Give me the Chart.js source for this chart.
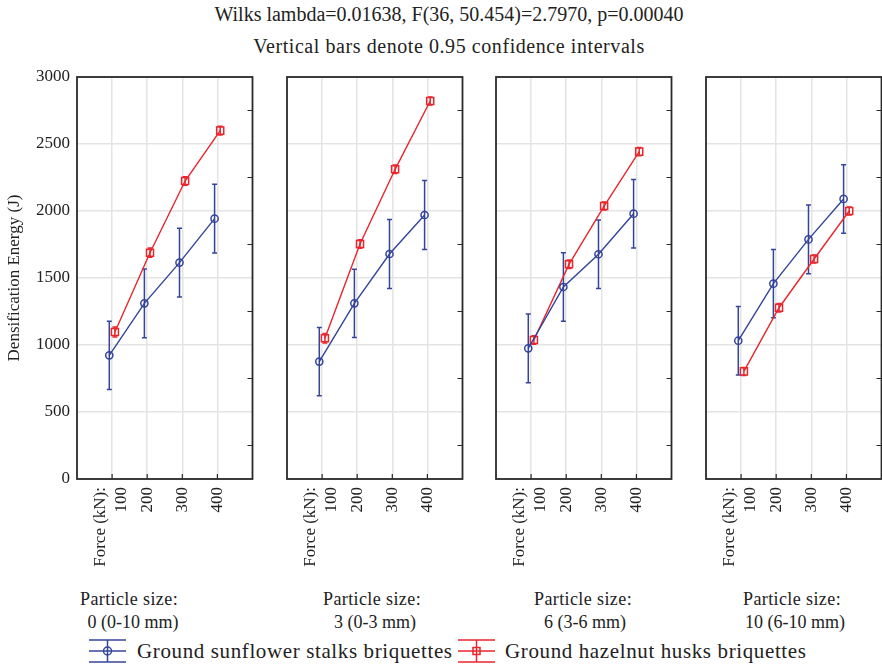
<!DOCTYPE html>
<html>
<head>
<meta charset="utf-8">
<script src="https://cdn.jsdelivr.net/npm/chart.js@4.4.1/dist/chart.umd.min.js"></script>
<style>
  html, body { margin: 0; padding: 0; background: #fff; }
  #wrap { position: relative; width: 882px; height: 665px; overflow: hidden; background: #fff;
          font-family: "Liberation Serif", "DejaVu Serif", serif; color: #222; }
  #wrap canvas { position: absolute; }
  .txt { position: absolute; white-space: nowrap; transform: translateX(-50%); line-height: 1; }
  .leg { position: absolute; white-space: nowrap; line-height: 1; font-size: 21px; letter-spacing: 0.62px; }
  .icon { position: absolute; }
</style>
</head>
<body>
<div id="wrap">
  <div class="txt" style="left:449px; top:4px; font-size:20px;">Wilks lambda=0.01638, F(36, 50.454)=2.7970, p=0.00040</div>
  <div class="txt" style="left:449px; top:36px; font-size:20px; letter-spacing:0.57px;">Vertical bars denote 0.95 confidence intervals</div>
</div>
<script>
// Force levels (kN) shown along each panel's x axis
const forceLabels = ['100', '200', '300', '400'];
const forceAxisLabel = 'Force (kN):';

// One panel per particle size class
const particleSizes = ['0 (0-10 mm)', '3 (0-3 mm)', '6 (3-6 mm)', '10 (6-10 mm)'];

// Densification energy (J): means and 95% CI half-widths, one row per particle size
const sunflowerMean = [
  [923, 1311, 1615, 1943],
  [876, 1311, 1679, 1970],
  [975, 1433, 1677, 1980],
  [1032, 1458, 1788, 2090]
];
const sunflowerCI = [
  [255, 257, 256, 256],
  [255, 255, 258, 257],
  [256, 255, 256, 256],
  [255, 255, 257, 256]
];
const hazelnutMean = [
  [1097, 1689, 2224, 2600],
  [1050, 1754, 2311, 2821],
  [1037, 1602, 2037, 2443],
  [803, 1278, 1642, 2000]
];
const hazelnutCI = [
  [38, 34, 32, 32],
  [36, 32, 32, 30],
  [32, 32, 30, 30],
  [30, 32, 30, 30]
];

const seriesNames = ['Ground sunflower stalks briquettes', 'Ground hazelnut husks briquettes'];
const BLUE = '#34449a';
const RED = '#e8262c';
const GRID = '#e4e4e4';
const INK = '#222';
const FONT = 'Liberation Serif';

// Layout of the four plot frames
const plotLefts = [77, 287, 496, 706];
const plotWidth = 176;
const plotTop = 77;
const plotBottom = 479;
const canvasTop = 70;
const canvasHeight = 510;
const dodge = 0.08;   // horizontal separation of the two series at each force level

// Keep label overhang from shifting the plot frame
function noOverhang(s) {
  s.paddingTop = 0; s.paddingBottom = 0; s.paddingLeft = 0; s.paddingRight = 0;
}

// Error bars, full frame and inward tick marks
const decorPlugin = {
  id: 'decor',
  beforeDatasetsDraw(chart) {
    const ctx = chart.ctx;
    const y = chart.scales.y;
    const x = chart.scales.x;
    chart.data.datasets.forEach((ds) => {
      ctx.save();
      ctx.strokeStyle = ds.borderColor;
      ctx.lineWidth = 1.5;
      ds.data.forEach((p, i) => {
        const px = x.getPixelForValue(p.x);
        const lo = y.getPixelForValue(p.y - ds.ci[i]);
        const hi = y.getPixelForValue(p.y + ds.ci[i]);
        ctx.beginPath();
        ctx.moveTo(px, lo); ctx.lineTo(px, hi);
        ctx.moveTo(px - 2.5, lo); ctx.lineTo(px + 2.5, lo);
        ctx.moveTo(px - 2.5, hi); ctx.lineTo(px + 2.5, hi);
        ctx.stroke();
      });
      ctx.restore();
    });
  },
  afterDraw(chart) {
    const ctx = chart.ctx;
    const a = chart.chartArea;
    const y = chart.scales.y;
    const x = chart.scales.x;
    ctx.save();
    ctx.strokeStyle = '#2a2a2a';
    ctx.lineWidth = 1.2;
    ctx.beginPath();
    forceLabels.forEach((_, i) => {
      const px = x.getPixelForValue(i + 1);
      ctx.moveTo(px, a.bottom); ctx.lineTo(px, a.bottom - 5);
    });
    for (let v = 250; v < 3000; v += 500) {
      const py = y.getPixelForValue(v);
      ctx.moveTo(a.right, py); ctx.lineTo(a.right - 5, py);
    }
    ctx.stroke();
    ctx.lineWidth = 1.8;
    ctx.strokeRect(a.left, a.top, a.right - a.left, a.bottom - a.top);
    ctx.restore();
  }
};

const wrap = document.getElementById('wrap');

particleSizes.forEach((size, k) => {
  const first = k === 0;
  const yw = first ? 77 : 0;
  const padL = first ? 0 : 7;
  const padR = 6;
  const canvasLeft = plotLefts[k] - yw - padL;
  const cw = yw + padL + plotWidth + padR;

  const cv = document.createElement('canvas');
  cv.width = cw; cv.height = canvasHeight;
  cv.style.left = canvasLeft + 'px';
  cv.style.top = canvasTop + 'px';
  cv.style.width = cw + 'px';
  cv.style.height = canvasHeight + 'px';
  wrap.appendChild(cv);

  const labelTicks = [forceAxisLabel].concat(forceLabels);
  const labelPos = [0.68, 1.28, 2, 3, 4];

  new Chart(cv.getContext('2d'), {
    type: 'line',
    data: {
      datasets: [
        {
          label: seriesNames[0],
          data: sunflowerMean[k].map((v, i) => ({ x: i + 1 - dodge, y: v })),
          ci: sunflowerCI[k],
          borderColor: BLUE,
          backgroundColor: 'rgba(0,0,0,0)',
          borderWidth: 1.4,
          pointStyle: 'circle',
          pointRadius: 3.6,
          pointBorderWidth: 1.5,
          pointBackgroundColor: 'rgba(0,0,0,0)',
          tension: 0
        },
        {
          label: seriesNames[1],
          data: hazelnutMean[k].map((v, i) => ({ x: i + 1 + dodge, y: v })),
          ci: hazelnutCI[k],
          borderColor: RED,
          backgroundColor: 'rgba(0,0,0,0)',
          borderWidth: 1.4,
          pointStyle: 'rect',
          pointRadius: 5,
          pointBorderWidth: 1.5,
          pointBackgroundColor: 'rgba(0,0,0,0)',
          tension: 0
        }
      ]
    },
    options: {
      responsive: false,
      animation: false,
      devicePixelRatio: 1,
      layout: { padding: { top: plotTop - canvasTop, left: padL, right: padR, bottom: 0 } },
      plugins: { legend: { display: false }, tooltip: { enabled: false } },
      scales: {
        x: {
          type: 'linear', position: 'bottom', min: 0, max: 5,
          afterBuildTicks: (s) => { s.ticks = forceLabels.map((_, i) => ({ value: i + 1 })); },
          ticks: { display: false },
          grid: { color: GRID, lineWidth: 1.5, drawTicks: false },
          border: { display: false },
          afterFit: (s) => { s.height = 0; noOverhang(s); }
        },
        xLab: {
          type: 'linear', position: 'bottom', min: 0, max: 5,
          afterBuildTicks: (s) => { s.ticks = labelPos.map((v) => ({ value: v })); },
          ticks: {
            callback: (v, i) => labelTicks[i],
            minRotation: 90, maxRotation: 90, autoSkip: false, padding: 8,
            color: INK, font: { family: FONT, size: 17 }
          },
          grid: { display: false, drawTicks: false },
          border: { display: false },
          afterFit: (s) => { s.height = canvasHeight - (plotBottom - canvasTop); noOverhang(s); }
        },
        y: {
          type: 'linear', position: 'left', min: 0, max: 3000,
          ticks: {
            display: first, stepSize: 500, padding: 7,
            callback: (v) => String(v),
            color: INK, font: { family: FONT, size: 17 }
          },
          title: {
            display: first, text: 'Densification Energy (J)',
            color: INK, font: { family: FONT, size: 17 }, padding: { top: 4, bottom: 0 }
          },
          grid: { color: GRID, lineWidth: 1.5, drawTicks: false },
          border: { display: false },
          afterFit: (s) => { s.width = yw; noOverhang(s); }
        }
      }
    },
    plugins: [decorPlugin]
  });
});

// Particle size captions under each panel
const captionX1 = [129, 372, 583, 792];
const captionX2 = [133, 375, 585, 795];
particleSizes.forEach((size, k) => {
  const a = document.createElement('div');
  a.className = 'txt';
  a.style.cssText = `left:${captionX1[k]}px; top:590px; font-size:18px; letter-spacing:0.4px;`;
  a.textContent = 'Particle size:';
  wrap.appendChild(a);
  const b = document.createElement('div');
  b.className = 'txt';
  b.style.cssText = `left:${captionX2[k]}px; top:613px; font-size:18px;`;
  b.textContent = size;
  wrap.appendChild(b);
});

// Legend
function legendIcon(color, marker, left) {
  const ns = 'http://www.w3.org/2000/svg';
  const svg = document.createElementNS(ns, 'svg');
  svg.setAttribute('width', '40'); svg.setAttribute('height', '26');
  svg.setAttribute('class', 'icon');
  svg.style.left = left + 'px'; svg.style.top = '638px';
  const mk = (tag, attrs) => {
    const el = document.createElementNS(ns, tag);
    Object.entries(attrs).forEach(([k, v]) => el.setAttribute(k, v));
    el.setAttribute('stroke', color); el.setAttribute('stroke-width', '1.5');
    el.setAttribute('fill', 'none');
    svg.appendChild(el);
  };
  mk('line', { x1: 1, y1: 2, x2: 38, y2: 2 });
  mk('line', { x1: 1, y1: 13, x2: 38, y2: 13 });
  mk('line', { x1: 1, y1: 24, x2: 38, y2: 24 });
  mk('line', { x1: 19.5, y1: 2, x2: 19.5, y2: 24 });
  if (marker === 'circle') mk('circle', { cx: 19.5, cy: 13, r: 4 });
  else mk('rect', { x: 16, y: 9.5, width: 7, height: 7 });
  wrap.appendChild(svg);
}
legendIcon(BLUE, 'circle', 88);
legendIcon(RED, 'rect', 457);
[[seriesNames[0], 137], [seriesNames[1], 505]].forEach(([t, x]) => {
  const d = document.createElement('div');
  d.className = 'leg';
  d.style.left = x + 'px'; d.style.top = '641px';
  d.textContent = t;
  wrap.appendChild(d);
});
</script>
</body>
</html>
